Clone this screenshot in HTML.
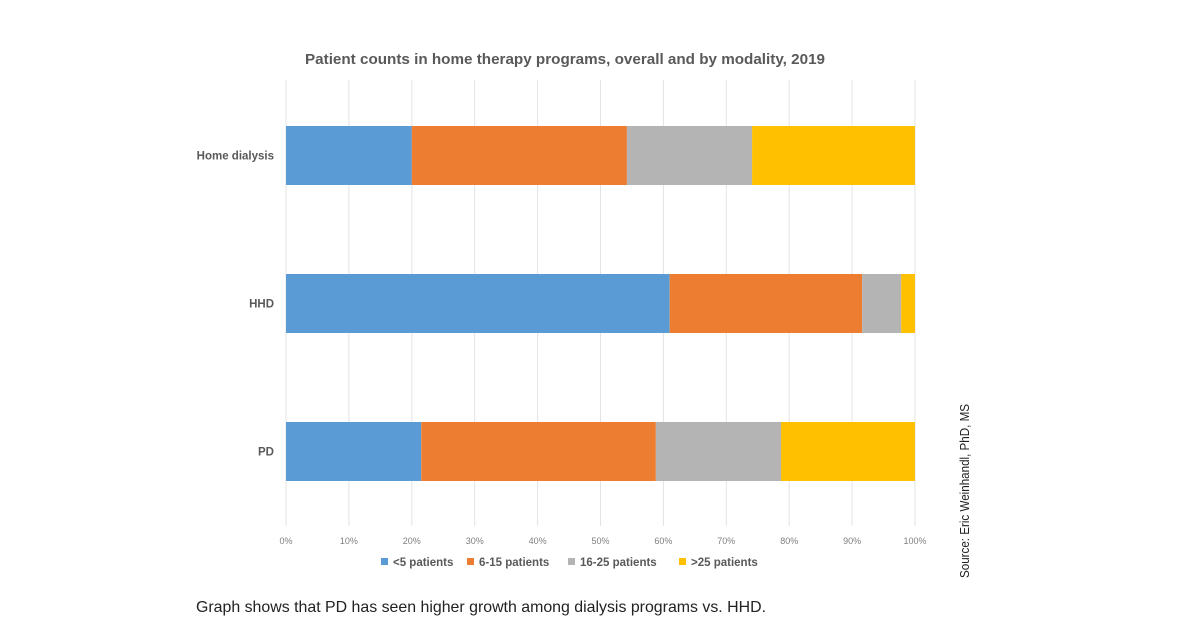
<!DOCTYPE html>
<html><head><meta charset="utf-8"><style>
body{margin:0;background:#fff;width:1200px;height:630px;overflow:hidden;font-family:"Liberation Sans",sans-serif}
</style></head><body>
<svg id="chart" width="1200" height="630" xmlns="http://www.w3.org/2000/svg">
<text x="565" y="64" text-anchor="middle" font-size="14.5" font-weight="bold" fill="#595959" textLength="520" lengthAdjust="spacingAndGlyphs">Patient counts in home therapy programs, overall and by modality, 2019</text>
<g id="grid"></g><g id="bars"></g><g id="ylabels"></g><g id="xticks"></g><g id="legend"></g>
<text transform="translate(969,491) rotate(-90)" text-anchor="middle" font-size="13" fill="#222" textLength="174" lengthAdjust="spacingAndGlyphs">Source: Eric Weinhandl, PhD, MS</text>
<text x="196" y="612" font-size="16" fill="#222" textLength="570" lengthAdjust="spacingAndGlyphs">Graph shows that PD has seen higher growth among dialysis programs vs. HHD.</text>
</svg>
<script>
const categories=["Home dialysis","HHD","PD"];
const seriesNames=["<5 patients","6-15 patients","16-25 patients",">25 patients"];
const lt5=[20.0,61.0,21.5];
const s6to15=[34.2,30.6,37.3];
const s16to25=[19.9,6.2,19.9];
const gt25=[25.9,2.2,21.3];
const ticks=[0,10,20,30,40,50,60,70,80,90,100];
const colors=["#5b9bd5","#ed7d31","#b4b4b4","#ffc000"];
const NS="http://www.w3.org/2000/svg";
const x0=286,x1=915;
const xs=v=>x0+(x1-x0)*v/100;
const ys=i=>126+i*148;
const bh=59;
function mk(t,a,p){const e=document.createElementNS(NS,t);for(const k in a)e.setAttribute(k,a[k]);p.appendChild(e);return e;}
const grid=document.getElementById('grid'),xt=document.getElementById('xticks');
ticks.forEach(t=>{
 const l=mk('line',{x1:xs(t),x2:xs(t),y1:80,y2:526,stroke:'#e3e3e3','stroke-width':1},grid);
 
 
 const tx=mk('text',{x:xs(t),y:544,'text-anchor':'middle','font-size':9,fill:'#7f7f7f'},xt);
 tx.textContent=t+'%';
 
 
});
const series=[lt5,s6to15,s16to25,gt25];
const bars=document.getElementById('bars'),yl=document.getElementById('ylabels');
categories.forEach((c,i)=>{
 let acc=0;
 series.forEach((s,j)=>{
  const r=mk('rect',{x:xs(acc),y:ys(i),width:xs(acc+s[i])-xs(acc),height:bh,fill:colors[j]},bars);
  
  
  acc+=s[i];
 });
 const t=mk('text',{x:274,y:ys(i)+bh/2+4,'text-anchor':'end','font-size':11.5,'font-weight':'bold',fill:'#595959'},yl);
 t.textContent=c;
 
 
});
const lg=document.getElementById('legend');
const lx=[381,467,568,679];
seriesNames.forEach((n,j)=>{
 const r=mk('rect',{x:lx[j],y:558,width:7,height:7,fill:colors[j]},lg);
 
 
 const t=mk('text',{x:lx[j]+12,y:566,'font-size':11.5,'font-weight':'bold',fill:'#595959'},lg);
 t.textContent=n;
 
 
});
</script>
</body></html>
